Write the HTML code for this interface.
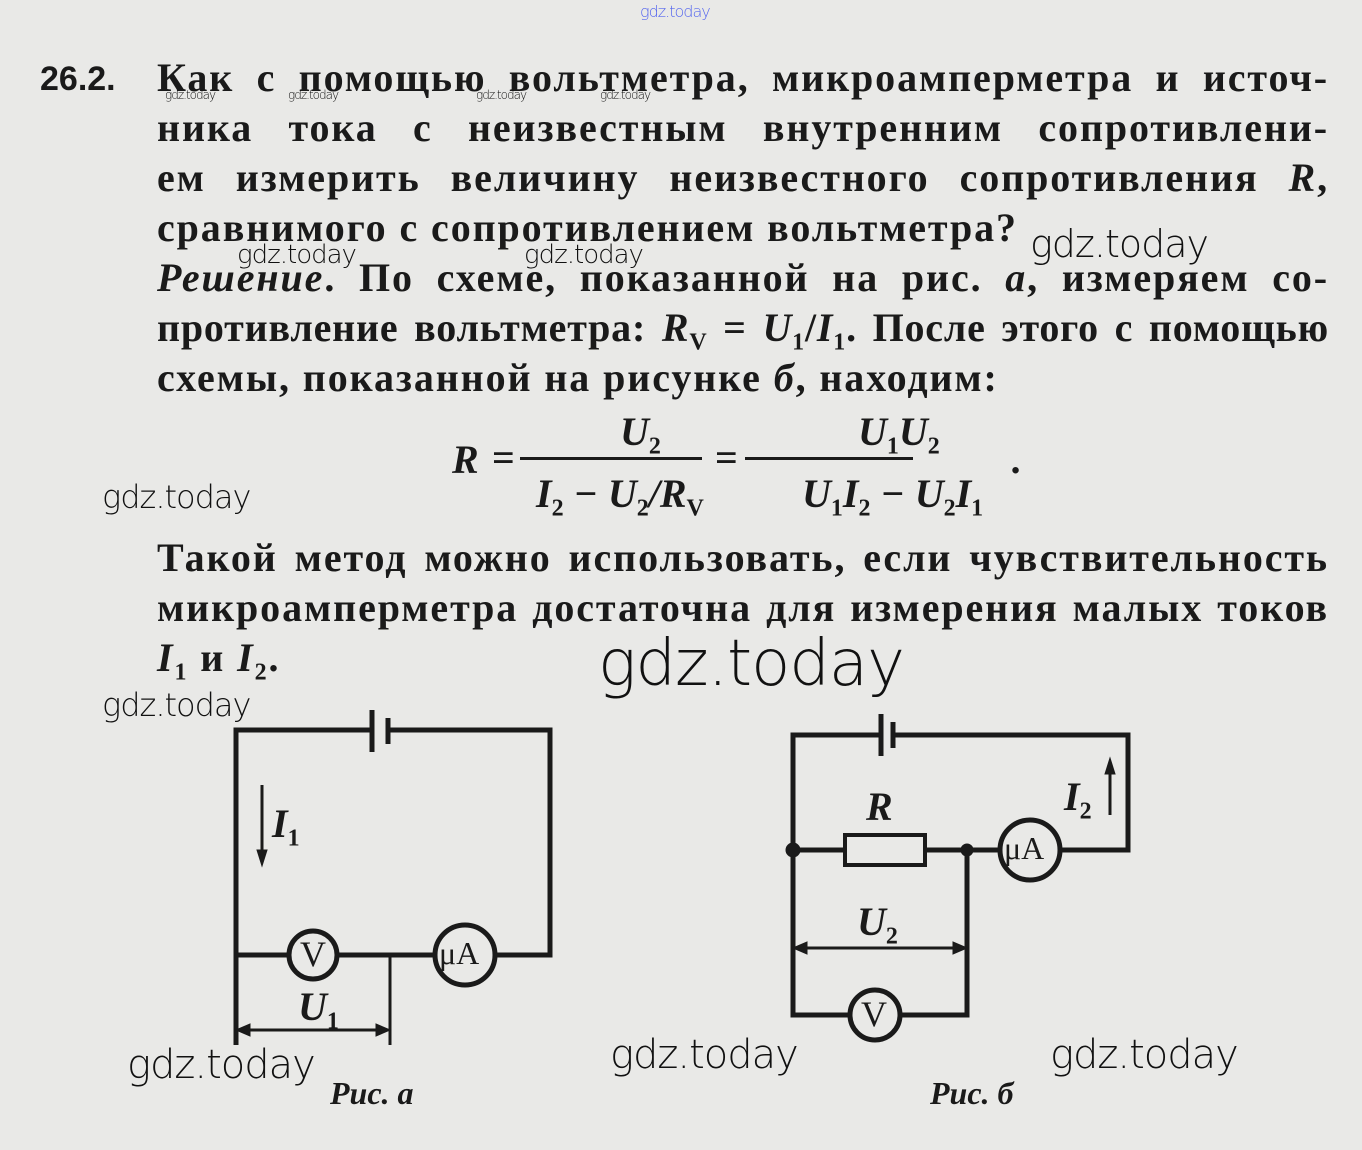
<!DOCTYPE html>
<html><head><meta charset="utf-8"><style>
html,body{margin:0;padding:0}
body{width:1362px;height:1150px;background:#e9e9e7;position:relative;overflow:hidden;font-family:"Liberation Serif",serif;color:#1a1a1a}
.l{position:absolute;left:157px;width:1172px;font-size:40px;font-weight:bold;text-align:justify;text-align-last:justify;white-space:nowrap;line-height:40px;letter-spacing:1.9px}
.w{position:absolute;font-family:"DejaVu Sans","Liberation Sans",sans-serif;font-weight:200;color:#111;white-space:nowrap;letter-spacing:-1px}
.m{position:absolute;font-style:italic;font-weight:bold;font-size:40px;white-space:nowrap}
sub{font-size:60%;font-style:normal;vertical-align:-0.35em}
</style></head><body>
<div class="w" style="left:640px;top:2px;font-size:16px;color:#5566ee">gdz.today</div>
<div style="position:absolute;left:40px;top:60px;font-family:'Liberation Sans',sans-serif;font-weight:bold;font-size:34px;">26.2.</div>
<div class="l" style="top:58px">Как с помощью вольтметра, микроамперметра и источ-</div>
<div class="l" style="top:108px">ника тока с неизвестным внутренним сопротивлени-</div>
<div class="l" style="top:158px">ем измерить величину неизвестного сопротивления <i>R</i>,</div>
<div class="l" style="top:208px;text-align-last:left">сравнимого с сопротивлением вольтметра?</div>
<div class="l" style="top:258px"><i>Решение</i>. По схеме, показанной на рис. <i>а</i>, измеряем со-</div>
<div class="l" style="top:308px;letter-spacing:0.8px">противление вольтметра: <i>R<sub>V</sub></i> = <i>U</i><sub>1</sub>/<i>I</i><sub>1</sub>. После этого с помощью</div>
<div class="l" style="top:358px;text-align-last:left">схемы, показанной на рисунке <i>б</i>, находим:</div>

<div class="m" style="left:452px;top:436px">R</div>
<div class="m" style="left:492px;top:434px;font-style:normal">=</div>
<div class="m" style="left:620px;top:408px">U<sub>2</sub></div>
<div style="position:absolute;left:520px;top:457px;width:182px;height:3px;background:#1a1a1a"></div>
<div class="m" style="left:536px;top:470px">I<sub>2</sub> − U<sub>2</sub>/R<sub>V</sub></div>
<div class="m" style="left:715px;top:434px;font-style:normal">=</div>
<div class="m" style="left:858px;top:408px">U<sub>1</sub>U<sub>2</sub></div>
<div style="position:absolute;left:745px;top:457px;width:168px;height:3px;background:#1a1a1a"></div>
<div class="m" style="left:802px;top:470px">U<sub>1</sub>I<sub>2</sub> − U<sub>2</sub>I<sub>1</sub></div>
<div class="m" style="left:1012px;top:436px">.</div>

<div class="l" style="top:538px">Такой метод можно использовать, если чувствительность</div>
<div class="l" style="top:588px">микроамперметра достаточна для измерения малых токов</div>
<div class="l" style="top:638px;text-align-last:left"><i>I</i><sub>1</sub> и <i>I</i><sub>2</sub>.</div>

<svg style="position:absolute;left:0;top:0" width="1362" height="1150" fill="none" stroke="#1a1a1a" stroke-width="5">
<path d="M236 1045 V730 H372 M388 730 H550 V955 H495 M435 955 H337 M289 955 H236"/>
<path d="M372 710 V752 M388 718 V744"/>
<circle cx="313" cy="955" r="24"/>
<circle cx="465" cy="955" r="30"/>
<path d="M390 955 V1045" stroke-width="3"/>
<path d="M248 1030 H378" stroke-width="3"/>
<path d="M236 1030 l14 -6 v12z M390 1030 l-14 -6 v12z" fill="#1a1a1a" stroke-width="1"/>
<path d="M262 785 V852" stroke-width="3"/>
<path d="M262 866 l-5 -16 h10z" fill="#1a1a1a" stroke-width="1"/>
<path d="M881 735 H793 V1015 H850 M900 1015 H967 V850 M793 850 H845 M925 850 H1000 M1060 850 H1128 V735 H893"/>
<path d="M881 714 V756 M893 722 V748"/>
<rect x="845" y="835" width="80" height="30" stroke-width="4"/>
<circle cx="793" cy="850" r="5" fill="#1a1a1a"/>
<circle cx="967" cy="850" r="4" fill="#1a1a1a"/>
<circle cx="1030" cy="850" r="30"/>
<circle cx="875" cy="1015" r="25"/>
<path d="M805 948 H955" stroke-width="3"/>
<path d="M793 948 l14 -6 v12z M967 948 l-14 -6 v12z" fill="#1a1a1a" stroke-width="1"/>
<path d="M1110 815 V772" stroke-width="3"/>
<path d="M1110 758 l-5 16 h10z" fill="#1a1a1a" stroke-width="1"/>
</svg>
<div style="position:absolute;left:300px;top:933px;font-size:36px;">V</div>
<div style="position:absolute;left:439px;top:935px;font-size:32px;">μA</div>
<div style="position:absolute;left:861px;top:993px;font-size:36px;">V</div>
<div style="position:absolute;left:1004px;top:830px;font-size:32px;">μA</div>
<div class="m" style="left:272px;top:800px">I<sub>1</sub></div>
<div class="m" style="left:298px;top:983px">U<sub>1</sub></div>
<div class="m" style="left:866px;top:783px">R</div>
<div class="m" style="left:857px;top:898px">U<sub>2</sub></div>
<div class="m" style="left:1064px;top:773px">I<sub>2</sub></div>
<div class="m" style="left:330px;top:1075px;font-size:32px">Рис. а</div>
<div class="m" style="left:930px;top:1075px;font-size:32px">Рис. б</div>

<div class="w" style="left:165px;top:88px;font-size:12px">gdz.today</div>
<div class="w" style="left:288px;top:88px;font-size:12px">gdz.today</div>
<div class="w" style="left:476px;top:88px;font-size:12px">gdz.today</div>
<div class="w" style="left:600px;top:88px;font-size:12px">gdz.today</div>
<div class="w" style="left:237px;top:240px;font-size:26px">gdz.today</div>
<div class="w" style="left:524px;top:240px;font-size:26px">gdz.today</div>
<div class="w" style="left:1030px;top:222px;font-size:38px">gdz.today</div>
<div class="w" style="left:102px;top:478px;font-size:32px">gdz.today</div>
<div class="w" style="left:598px;top:627px;font-size:64px">gdz.today</div>
<div class="w" style="left:102px;top:686px;font-size:32px">gdz.today</div>
<div class="w" style="left:127px;top:1042px;font-size:40px">gdz.today</div>
<div class="w" style="left:610px;top:1032px;font-size:40px">gdz.today</div>
<div class="w" style="left:1050px;top:1032px;font-size:40px">gdz.today</div>
</body></html>
